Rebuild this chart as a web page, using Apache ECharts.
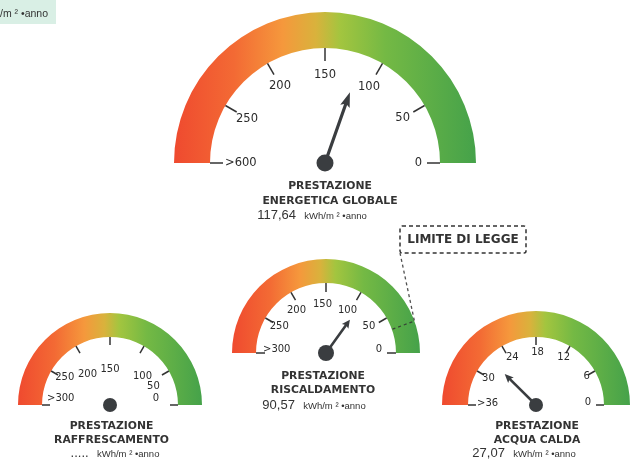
<!DOCTYPE html>
<html><head><meta charset="utf-8">
<script src="https://cdn.jsdelivr.net/npm/echarts@6/dist/echarts.min.js"></script>
<style>html,body{margin:0;padding:0;background:#fff}#c{width:630px;height:463px}</style>
</head><body><div id="c"></div>
<script>
// ---- data ----
const gaugeNames = ['PRESTAZIONE\nENERGETICA GLOBALE', 'PRESTAZIONE\nRISCALDAMENTO', 'PRESTAZIONE\nRAFFRESCAMENTO', 'PRESTAZIONE\nACQUA CALDA'];
const gaugeValues = [117.64, 90.57, null, 27.07];
const gaugeMax = [300, 300, 300, 36];
const tickLabelsGlobal = ['0', '50', '100', '150', '200', '250', '>600'];
const tickLabels300 = ['0', '50', '100', '150', '200', '250', '>300'];
const tickLabels36 = ['0', '6', '12', '18', '24', '30', '>36'];
const gaugeTickLabels = [tickLabelsGlobal, tickLabels300, tickLabels300, tickLabels36];
const unitText = 'kWh/m ² •anno';
const limitLabel = 'LIMITE DI LEGGE';
const limitValue = 33; // on the riscaldamento gauge

// ---- layout / style ----
// labelPad: per tick label padding [top, right, bottom, left], index 0 = value 0 (right end)
const layouts = [
  {center: [325, 163], r: 151, w: 36, tick: 13, labelR: 112, font: 11.5, ptrLen: 75, ptrW: 10, hub: 17, title: [5, 30.5], detail: [-13, 52],
   labelPad: [[0, 15, 0, 0], [22, 12, 0, 0], [15, 1, 0, 0], [18, 0, 0, 0], [14, 0, 0, 0], [24, 0, 0, 8], [0, 0, 0, 12]]},
  {center: [326, 353], r: 94, w: 24, tick: 9, labelR: 80, font: 10, ptrLen: 41, ptrW: 8, hub: 16, title: [-3, 30], detail: [-12, 52],
   labelPad: [[0, 24, 8, 0], [26, 20, 0, 0], [22, 9, 0, 0], [26, 7, 0, 0], [22, 0, 0, 1], [26, 0, 0, 13], [0, 0, 8, 17]]},
  {center: [110, 405], r: 92, w: 24, tick: 8, labelR: 84, font: 10, ptrLen: 40, ptrW: 8, hub: 14, title: [1.5, 28], detail: [5, 48],
   labelPad: [[0, 35, 14, 0], [46, 23, 0, 0], [39, 0, 0, 0], [43, 0, 0, 0], [37, 0, 0, 10], [29, 0, 0, 18], [0, 0, 14, 21]]},
  {center: [536, 405], r: 94, w: 26, tick: 8, labelR: 68, font: 10, ptrLen: 44, ptrW: 8, hub: 14, title: [1, 28], detail: [-12, 48],
   labelPad: [[0, 13, 6, 0], [10, 5, 0, 0], [6, 0, 0, 0], [10, 0, 0, 3], [6, 0, 0, 4], [14, 0, 0, 5], [0, 0, 4, 9]]}
];
const DARK = '#3a3d40';
const needlePath = 'path://M5,0 L10,15 L6.6,13 L6.6,75 L3.4,75 L3.4,13 L0,15 Z';

function grad() {
  return new echarts.graphic.LinearGradient(0, 0, 1, 0, [
    {offset: 0, color: '#ef4a2f'},
    {offset: 0.2, color: '#f36a34'},
    {offset: 0.36, color: '#f5983c'},
    {offset: 0.47, color: '#d9b23c'},
    {offset: 0.55, color: '#a3c53f'},
    {offset: 0.7, color: '#74b944'},
    {offset: 1, color: '#45a24a'}
  ]);
}

const chart = echarts.init(document.getElementById('c'), null, {renderer: 'canvas'});

const series = gaugeValues.map(function (val, i) {
  const L = layouts[i];
  const max = gaugeMax[i];
  const labels = gaugeTickLabels[i];
  const display = val == null ? '.....' : val.toFixed(2).replace('.', ',');
  const lblStyle = {color: '#2b2b2b', fontSize: L.font, fontFamily: 'DejaVu Sans'};
  const rich = {};
  L.labelPad.forEach(function (p, k) { rich['p' + k] = Object.assign({padding: p}, lblStyle); });
  return {
    type: 'gauge',
    center: L.center,
    radius: L.r,
    startAngle: 0,
    endAngle: 180,
    clockwise: false,
    min: 0,
    max: max,
    splitNumber: 6,
    axisLine: {lineStyle: {width: L.w, color: [[1, grad()]]}},
    splitLine: {show: true, length: L.tick, distance: 0, lineStyle: {color: '#333', width: 1.5}},
    axisTick: {show: false},
    axisLabel: Object.assign({
      distance: L.r - L.tick - L.labelR,
      formatter: function (v) {
        const idx = Math.round(v / max * 6);
        return '{p' + idx + '|' + labels[idx] + '}';
      },
      rich: rich
    }, lblStyle),
    pointer: {show: val != null, icon: needlePath, length: L.ptrLen, width: L.ptrW, itemStyle: {color: DARK}},
    anchor: {show: true, showAbove: true, size: L.hub, itemStyle: {color: DARK}},
    progress: {show: false},
    title: {
      offsetCenter: L.title,
      color: '#333',
      fontSize: 10.8,
      fontWeight: 'bold',
      fontFamily: 'DejaVu Sans',
      lineHeight: 14.5
    },
    detail: {
      offsetCenter: L.detail,
      valueAnimation: false,
      fontWeight: 'normal',
      formatter: function () {
        return '{v|' + display + '} {u|' + unitText + '}';
      },
      rich: {
        v: {fontSize: 13, fontWeight: 'normal', color: '#333', fontFamily: 'Liberation Sans', lineHeight: 16},
        u: {fontSize: 9.5, fontWeight: 'normal', color: '#333', fontFamily: 'Liberation Sans', lineHeight: 16, padding: [3, 0, 0, 0]}
      }
    },
    data: [{value: val == null ? 0 : val, name: gaugeNames[i]}]
  };
});

// limit annotation geometry derived from riscaldamento gauge
const LM = layouts[1];
const th = limitValue / gaugeMax[1] * Math.PI;
const outerPt = [LM.center[0] + LM.r * Math.cos(th), LM.center[1] - LM.r * Math.sin(th)];
const innerPt = [LM.center[0] + (LM.r - LM.w) * Math.cos(th), LM.center[1] - (LM.r - LM.w) * Math.sin(th)];
const box = {x: 400, y: 226, width: 126, height: 27};

chart.setOption({
  backgroundColor: '#ffffff',
  animation: false,
  series: series,
  graphic: [
    {type: 'rect', z: 1, shape: {x: 0, y: 0, width: 56, height: 24}, style: {fill: '#d9efe5'}},
    {type: 'text', z: 2, x: -21, y: 14, style: {
      text: unitText, fill: '#333', fontSize: 10.5, fontFamily: 'Liberation Sans', verticalAlign: 'middle'}},
    {type: 'rect', z: 10, shape: {x: box.x, y: box.y, width: box.width, height: box.height, r: 2},
      style: {fill: '#fff', stroke: '#333', lineWidth: 1.5, lineDash: [4, 3]}},
    {type: 'text', z: 11, x: box.x + box.width / 2, y: box.y + box.height / 2, style: {
      text: limitLabel, fill: '#333', fontSize: 12, fontWeight: 'bold', fontFamily: 'DejaVu Sans',
      align: 'center', verticalAlign: 'middle'}},
    {type: 'polyline', z: 10, shape: {points: [[box.x, box.y + box.height], outerPt, innerPt]},
      style: {fill: 'none', stroke: '#333', lineWidth: 1.3, lineDash: [3, 3], opacity: 0.85}}
  ]
});
</script>
</body></html>
